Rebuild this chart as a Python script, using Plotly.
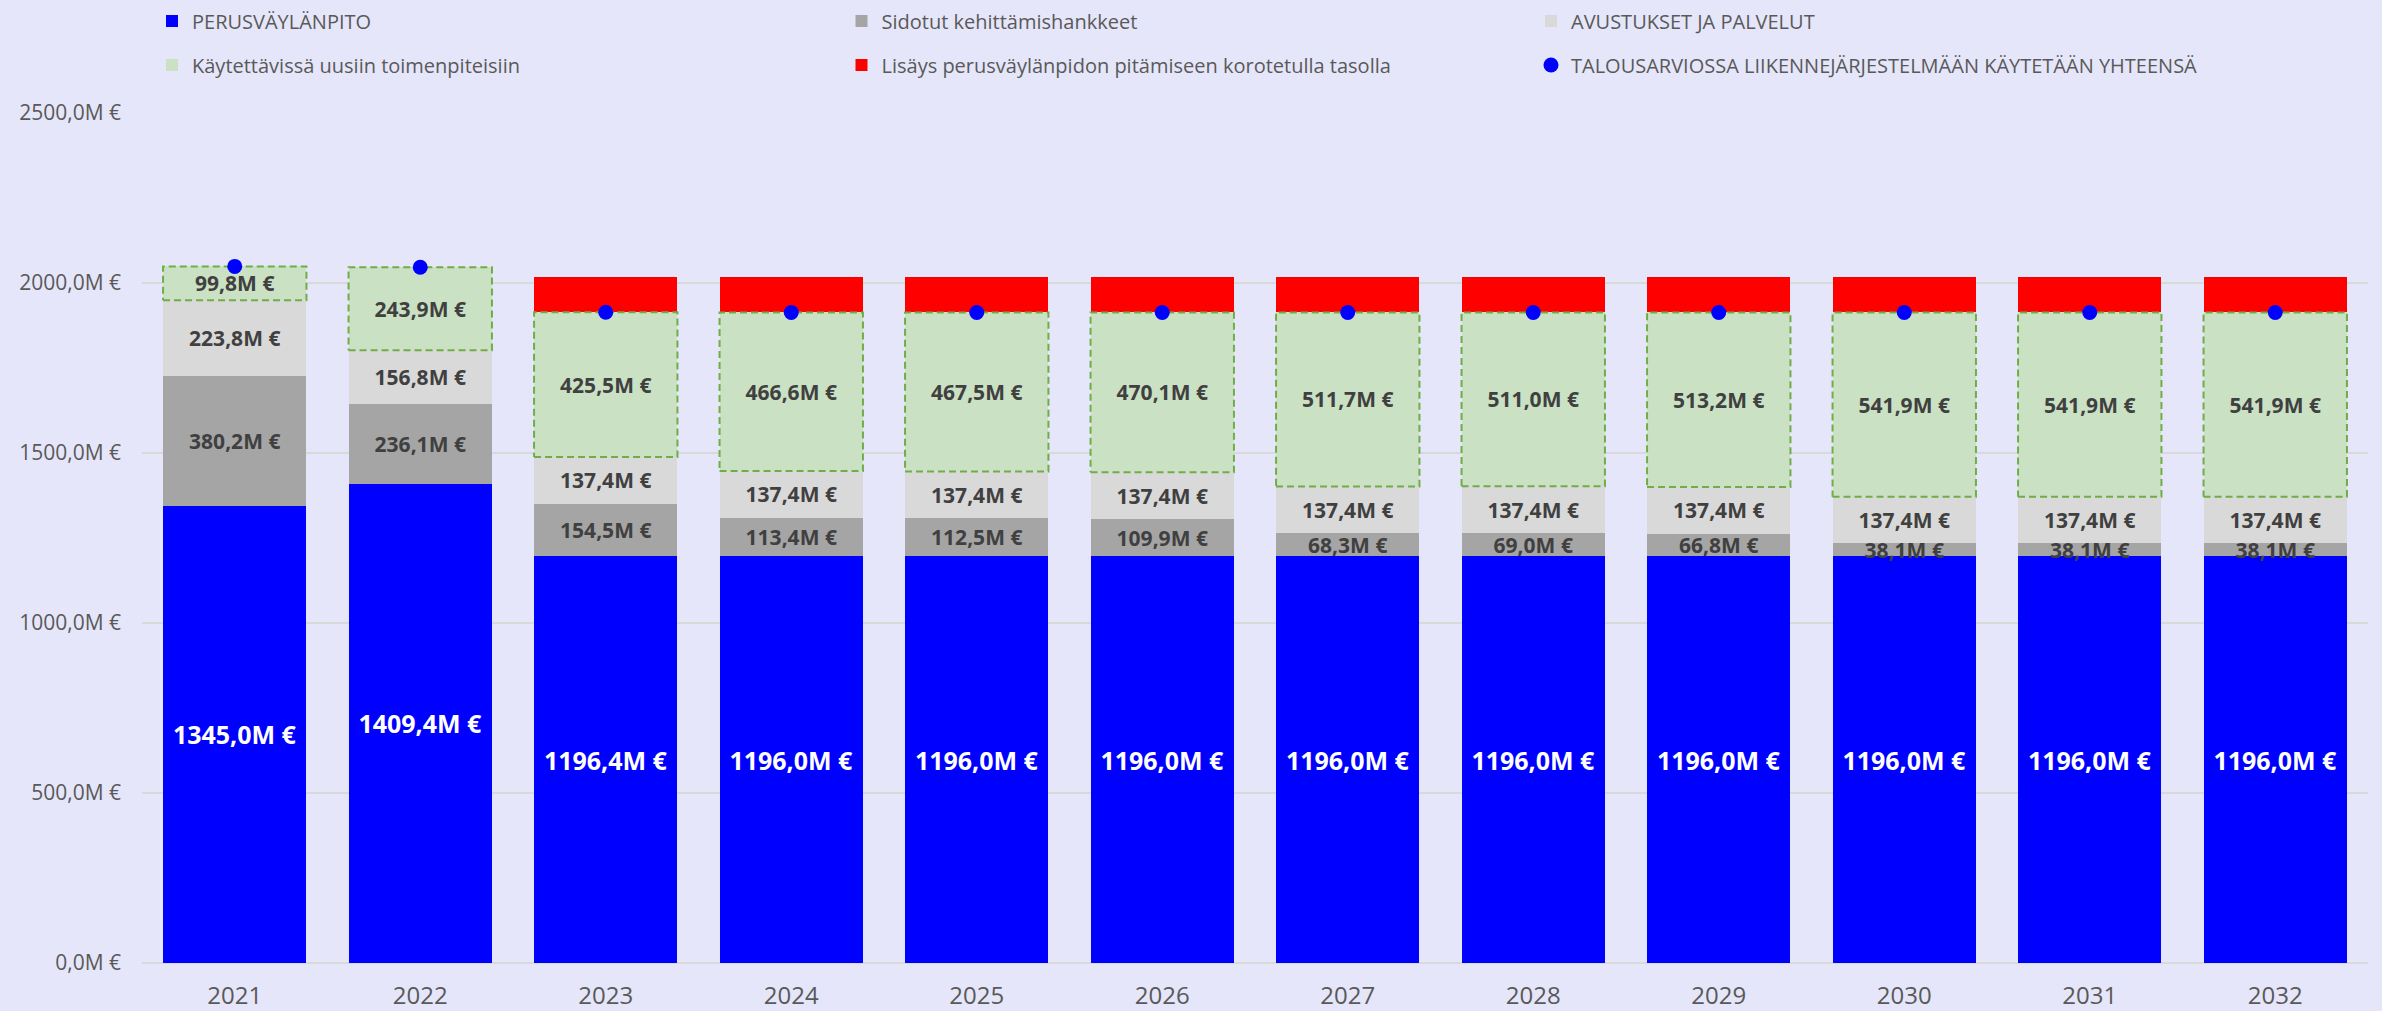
import plotly.graph_objects as go

years = ["2021", "2022", "2023", "2024", "2025", "2026", "2027", "2028", "2029", "2030", "2031", "2032"]

perusvaylanpito = [1345.0, 1409.4, 1196.4, 1196.0, 1196.0, 1196.0, 1196.0, 1196.0, 1196.0, 1196.0, 1196.0, 1196.0]
sidotut = [380.2, 236.1, 154.5, 113.4, 112.5, 109.9, 68.3, 69.0, 66.8, 38.1, 38.1, 38.1]
avustukset = [223.8, 156.8, 137.4, 137.4, 137.4, 137.4, 137.4, 137.4, 137.4, 137.4, 137.4, 137.4]
kaytettavissa = [99.8, 243.9, 425.5, 466.6, 467.5, 470.1, 511.7, 511.0, 513.2, 541.9, 541.9, 541.9]
lisays = [None, None, 104.7, 104.7, 104.7, 104.7, 104.7, 104.7, 104.7, 104.7, 104.7, 104.7]
talousarvio = [2048.8, 2046.2, 1913.8, 1913.4, 1913.4, 1913.4, 1913.4, 1913.4, 1913.4, 1913.4, 1913.4, 1913.4]

y_tick_values = [0, 500, 1000, 1500, 2000, 2500]
y_tick_labels = ["0,0M €", "500,0M €", "1000,0M €", "1500,0M €", "2000,0M €", "2500,0M €"]

names = [
    "PERUSVÄYLÄNPITO",
    "Sidotut kehittämishankkeet",
    "AVUSTUKSET JA PALVELUT",
    "Käytettävissä uusiin toimenpiteisiin",
    "Lisäys perusväylänpidon pitämiseen korotetulla tasolla",
    "TALOUSARVIOSSA LIIKENNEJÄRJESTELMÄÄN KÄYTETÄÄN YHTEENSÄ",
]

FONT = "Open Sans"
BG = "#E6E6FA"
W = 0.773
xs = list(range(len(years)))


def fmt(v):
    return f"{v:.1f}".replace(".", ",") + "M €"


fig = go.Figure()


def add_bar(vals, name, color, txtcolor, txtsize, legend, with_text=True):
    fig.add_trace(go.Bar(
        x=xs, y=vals, name=name, width=W,
        marker=dict(color=color, line=dict(width=0)),
        text=[fmt(v) if (with_text and v is not None) else "" for v in vals],
        textposition="inside", insidetextanchor="middle", textangle=0,
        constraintext="none",
        textfont=dict(family=FONT, size=txtsize, color=txtcolor, weight="bold"),
        legend=legend, hoverinfo="skip",
    ))


add_bar(perusvaylanpito, names[0], "#0000FF", "#FFFFFF", 25, "legend")
add_bar(sidotut, names[1], "#A5A5A5", "#404040", 21, "legend")
add_bar(avustukset, names[2], "#D9D9D9", "#404040", 21, "legend")
add_bar(kaytettavissa, names[3], "#CAE1C4", "#404040", 21, "legend2")
add_bar(lisays, names[4], "#FF0000", "#404040", 21, "legend2", with_text=False)

# dashed outline around the "Käytettävissä" segments
ox, oy = [], []
for i in xs:
    base = perusvaylanpito[i] + sidotut[i] + avustukset[i]
    top = base + kaytettavissa[i]
    ox += [i - W / 2, i + W / 2, i + W / 2, i - W / 2, i - W / 2, None]
    oy += [base, base, top, top, base, None]
fig.add_trace(go.Scatter(
    x=ox, y=oy, mode="lines",
    line=dict(color="#70AD47", width=2, dash="7px,4px"),
    showlegend=False, hoverinfo="skip",
))

fig.add_trace(go.Scatter(
    x=xs, y=talousarvio, mode="markers", name=names[5],
    marker=dict(color="#0000FF", size=15, symbol="circle"),
    legend="legend2", hoverinfo="skip",
))

plot_w = 2382 - 142 - 14
plot_h = 1011 - 113 - 48


def py(ypx):
    return 1 + (113 - ypx) / plot_h


legend_common = dict(
    orientation="h", xanchor="left", yanchor="middle",
    x=(152 - 142) / plot_w,
    entrywidth=644.5, entrywidthmode="pixels",
    font=dict(family=FONT, size=20, color="#595959"),
    bgcolor="rgba(0,0,0,0)", itemclick=False, traceorder="normal",
)

fig.update_layout(
    width=2382, height=1011,
    margin=dict(l=142, r=14, t=113, b=48, autoexpand=False),
    paper_bgcolor=BG, plot_bgcolor=BG,
    barmode="stack",
    showlegend=True,
    legend=dict(**legend_common, y=py(21)),
    legend2=dict(**legend_common, y=py(65)),
    font=dict(family=FONT, color="#595959"),
    xaxis=dict(
        tickvals=xs, ticktext=years, range=[-0.5, len(years) - 0.5],
        showgrid=False, zeroline=False, showline=False, automargin=False,
        tickfont=dict(family=FONT, size=24, color="#595959"),
        ticklabelstandoff=16,
    ),
    yaxis=dict(
        range=[0, 2500], tickvals=y_tick_values, ticktext=y_tick_labels,
        showgrid=True, gridcolor="#D9D9D9", gridwidth=1.5,
        zeroline=True, zerolinecolor="#D9D9D9", zerolinewidth=1.5,
        showline=False, automargin=False,
        tickfont=dict(family=FONT, size=21, color="#595959"),
        ticklabelstandoff=20,
    ),
)

fig.write_html(
    "out.html",
    config={"displayModeBar": False},
    post_script="document.body.style.margin='0';document.body.style.overflow='hidden';",
)
